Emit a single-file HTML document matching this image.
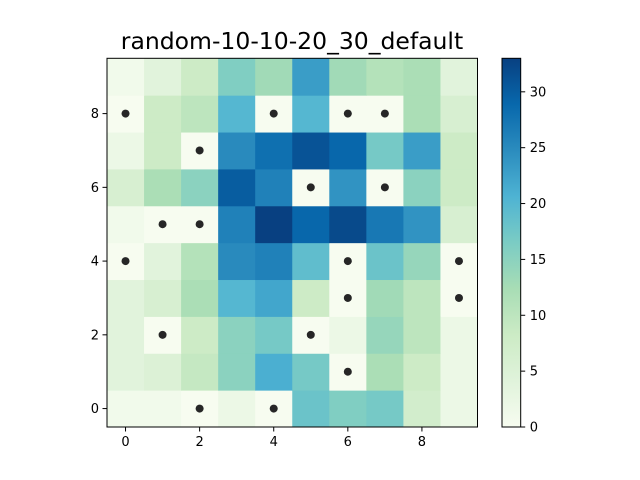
<!DOCTYPE html>
<html><head><meta charset="utf-8"><style>body{margin:0;background:#fff}svg{display:block;font-family:"DejaVu Sans","Liberation Sans",sans-serif}</style></head>
<body>
<svg id="c" width="640" height="480">
<text x="292" y="49" text-anchor="middle" font-size="23.5">random-10-10-20_30_default</text>
<g id="cells"></g>
<g id="axes"></g>
<defs><linearGradient id="cg" x1="0" y1="1" x2="0" y2="0"></linearGradient></defs>
</svg>
<script>
// rows from y=0 (bottom) to y=9 (top)
const rows0 = [1,1,0,2,0,18,16,17,7,2];
const rows1 = [4,5,9,15,21,17,0,12,8,2];
const rows2 = [4,0,8,15,17,0,2,14,10,2];
const rows3 = [4,6,12,20,22,8,0,13,10,0];
const rows4 = [0,4,11,25,26,19,0,18,14,0];
const rows5 = [1,0,0,26,33,29,32,27,24,6];
const rows6 = [6,12,15,30,26,0,24,0,15,8];
const rows7 = [2,8,0,25,28,31,29,17,23,8];
const rows8 = [0,8,10,20,0,20,0,0,12,6];
const rows9 = [1,4,8,16,13,23,13,11,12,4];
const xTicks = [0,2,4,6,8];
const yTicks = [0,2,4,6,8];
const cbTicks = [0,5,10,15,20,25,30];
const vmin = 0, vmax = 33;
const grid = [rows0,rows1,rows2,rows3,rows4,rows5,rows6,rows7,rows8,rows9];
const stops = ["#f7fcf0","#e0f3db","#ccebc5","#a8ddb5","#7bccc4","#4eb3d3","#2b8cbe","#0868ac","#084081"];
const L=107,R=477.5,T=58.3,B=427;
const cw=(R-L)/10, ch=(B-T)/10;
const sx=i=>L+(i+0.5)*cw, sy=j=>B-(j+0.5)*ch;
function hex(h){return [1,3,5].map(k=>parseInt(h.substr(k,2),16));}
function cmap(v){let t=Math.max(0,Math.min(1,(v-vmin)/(vmax-vmin)))*(stops.length-1);let i=Math.min(Math.floor(t),stops.length-2),f=t-i;const a=hex(stops[i]),b=hex(stops[i+1]);return `rgb(${a.map((x,k)=>Math.round(x+(b[k]-x)*f)).join(',')})`;}
const NS="http://www.w3.org/2000/svg";
function mk(tag,at,p){const e=document.createElementNS(NS,tag);for(const k in at)e.setAttribute(k,at[k]);p.appendChild(e);return e;}
const cells=document.getElementById('cells'), axes=document.getElementById('axes');
grid.forEach((row,j)=>row.forEach((v,i)=>{
  const r=mk('rect',{x:sx(i)-cw/2,y:sy(j)-ch/2,width:cw+0.5,height:ch+0.5,fill:cmap(v)},cells);
  
  
  if(v===0){const d=mk('circle',{cx:sx(i),cy:sy(j),r:4,fill:'#262626'},cells);
    
    }
}));
const fr=mk('rect',{x:L,y:T,width:R-L,height:B-T,fill:'none',stroke:'#000','stroke-width':1},axes);


xTicks.forEach(t=>{mk('line',{x1:sx(t),x2:sx(t),y1:B,y2:B+4.5,stroke:'#000'},axes);
  const tx=mk('text',{x:sx(t),y:B+19,'text-anchor':'middle','font-size':13},axes);tx.textContent=t;
  
  });
yTicks.forEach(t=>{mk('line',{x1:L-4.5,x2:L,y1:sy(t),y2:sy(t),stroke:'#000'},axes);
  const tx=mk('text',{x:L-8,y:sy(t)+4.5,'text-anchor':'end','font-size':13},axes);tx.textContent=t;
  
  });
// colorbar
const g=document.getElementById('cg');
stops.forEach((s,k)=>mk('stop',{offset:k/(stops.length-1),'stop-color':s},g));
const CL=502,CR=520.7;
const cb=mk('rect',{x:CL,y:T,width:CR-CL,height:B-T,fill:'url(#cg)',stroke:'#000'},axes);


const cy=v=>B-(v-vmin)/(vmax-vmin)*(B-T);
cbTicks.forEach(t=>{mk('line',{x1:CR,x2:CR+4.5,y1:cy(t),y2:cy(t),stroke:'#000'},axes);
  const tx=mk('text',{x:CR+9,y:cy(t)+4.5,'font-size':13},axes);tx.textContent=t;
  
  });
</script>
</body></html>
